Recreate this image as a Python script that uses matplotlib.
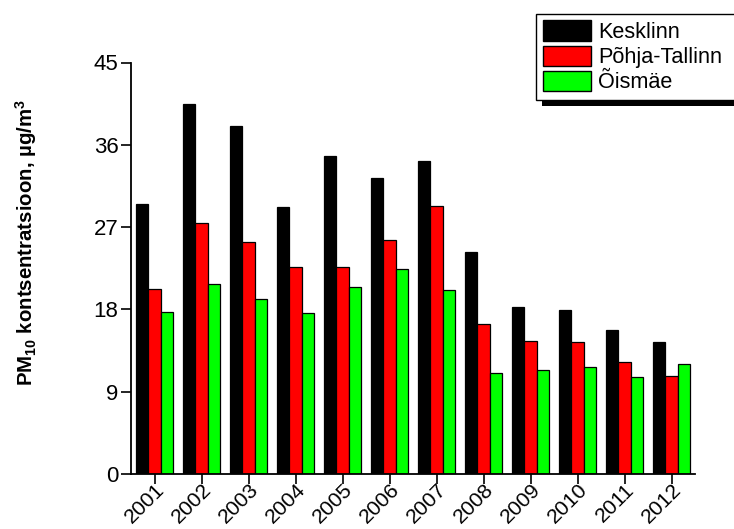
import matplotlib
matplotlib.use("Agg")
import matplotlib.pyplot as plt
import numpy as np

plt.rcParams['font.family'] = ['Liberation Sans', 'DejaVu Sans']
plt.rcParams['mathtext.fontset'] = 'custom'
plt.rcParams['mathtext.rm'] = 'Liberation Sans'
plt.rcParams['mathtext.bf'] = 'Liberation Sans:bold'

years = ['2001', '2002', '2003', '2004', '2005', '2006',
         '2007', '2008', '2009', '2010', '2011', '2012']
kesklinn = [29.5, 40.5, 38.1, 29.2, 34.8, 32.4, 34.2, 24.3, 18.3, 17.9, 15.7, 14.4]
pohja_tallinn = [20.2, 27.5, 25.4, 22.6, 22.6, 25.6, 29.3, 16.4, 14.5, 14.4, 12.2, 10.7]
oismae = [17.7, 20.8, 19.1, 17.6, 20.5, 22.4, 20.1, 11.0, 11.4, 11.7, 10.6, 12.0]

series = [('Kesklinn', kesklinn, '#000000'),
          ('Põhja-Tallinn', pohja_tallinn, '#ff0000'),
          ('Õismäe', oismae, '#00ff00')]
y_ticks = [0, 9, 18, 27, 36, 45]

W, H = 734, 529
fig = plt.figure(figsize=(W / 100, H / 100), dpi=100)
ax = fig.add_axes([131 / W, 1 - 474 / H, 564 / W, 411.5 / H])

x = np.arange(len(years))
w = 0.8 / 3
for i, (name, vals, col) in enumerate(series):
    ax.bar(x + (i - 1) * w, vals, width=w, color=col, edgecolor='black',
           linewidth=0.9, label=name, zorder=2)

ax.set_xlim(-0.5, 11.5)
ax.set_ylim(0, 45)
ax.set_yticks(y_ticks)
ax.set_xticks(x)
ax.set_xticklabels(years, rotation=45, ha='right', rotation_mode='anchor')
ax.tick_params(axis='both', direction='out', length=7, width=1.2,
               colors='black')
ax.tick_params(axis='y', pad=2, labelsize=16)
ax.tick_params(axis='x', pad=-2.5, labelsize=15.3)
for s in ('top', 'right'):
    ax.spines[s].set_visible(False)
for s in ('left', 'bottom'):
    ax.spines[s].set_linewidth(1.3)

fig.text(26 / W, 1 - 243 / H,
         r'PM$_{\mathbf{10}}$ kontsentratsioon, µg/m$^{\mathbf{3}}$',
         rotation=90, ha='center', va='center', fontsize=14.7, fontweight='bold')

leg = fig.legend(loc='upper left', bbox_to_anchor=(536 / W, 1 - 14 / H),
                 fontsize=15.6, handlelength=2.25, handleheight=1.05,
                 labelspacing=0.13, borderpad=0.3, handletextpad=0.3,
                 borderaxespad=0, frameon=False)
for h in leg.legend_handles:
    h.set_linewidth(1.0)

# legend frame (runs past the right edge) with a drop shadow below it
fig.canvas.draw()
bb = leg.get_window_extent()
x0 = bb.x0 / W
y0 = bb.y0 / H
bw = (W + 10 - bb.x0) / W
bh = bb.height / H
off = 6
shadow = plt.Rectangle((x0 + off / W, y0 - off / H), bw, bh,
                       transform=fig.transFigure, facecolor='black',
                       edgecolor='none', zorder=4)
frame = plt.Rectangle((x0, y0), bw, bh, transform=fig.transFigure,
                      facecolor='white', edgecolor='black', linewidth=1.0,
                      zorder=4.5)
fig.add_artist(shadow)
fig.add_artist(frame)
leg.set_zorder(5)

fig.savefig('out.png', dpi=100)
